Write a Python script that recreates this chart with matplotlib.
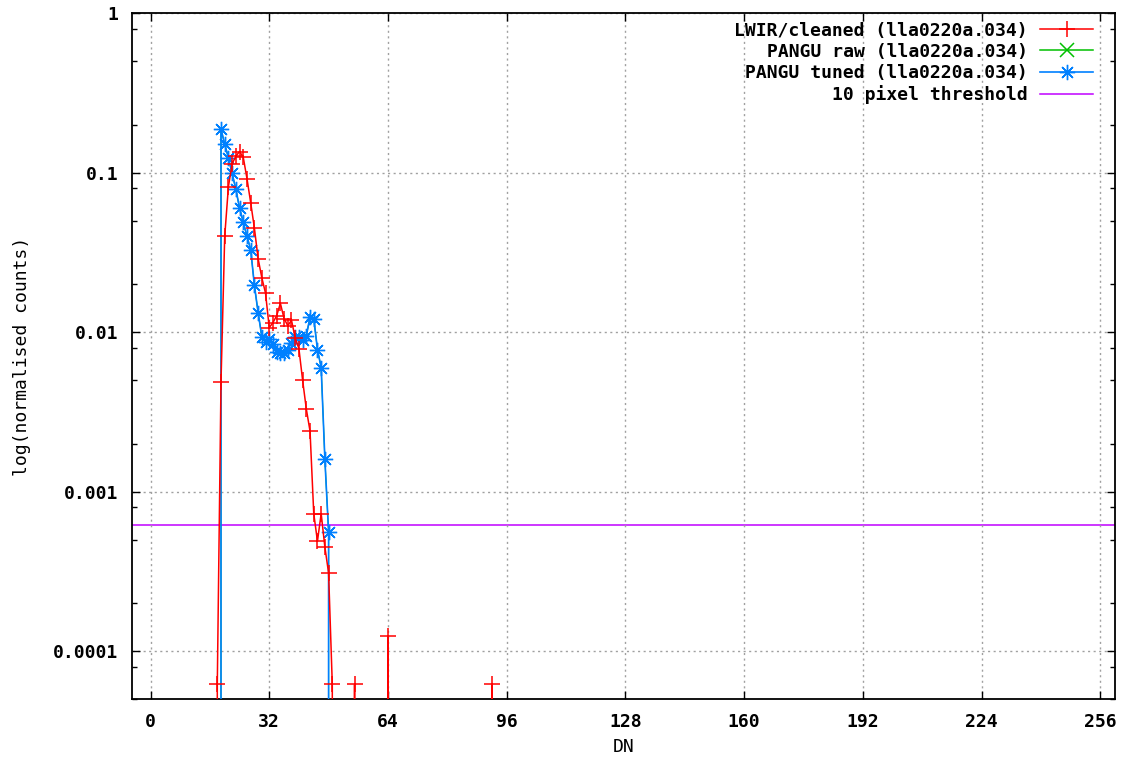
import numpy as np
import matplotlib
matplotlib.use('Agg')
import matplotlib.pyplot as plt
from matplotlib.ticker import LogLocator, FixedLocator, FixedFormatter, NullFormatter

plt.rcParams['font.family'] = 'DejaVu Sans Mono'
plt.rcParams['font.weight'] = 'bold'
plt.rcParams['font.size'] = 13

# LWIR/cleaned histogram (zeros drop off the log axis)
lwir_dn = [17, 18, 19, 20, 21, 22, 23, 24, 25, 26, 27, 28, 29, 30, 31, 32, 33, 34, 35,
           36, 37, 38, 39, 40, 41, 42, 43, 44, 45, 46, 47, 48, 49, 50,
           54, 55, 56, 63, 64, 65, 91, 92, 93]
lwir_val = [0, 6.2e-5, 0.0049, 0.040, 0.082, 0.114, 0.127, 0.136, 0.125, 0.092, 0.065,
            0.045, 0.029, 0.022, 0.0176, 0.0107, 0.0115, 0.0127, 0.0152, 0.0122, 0.0110,
            0.0119, 0.0092, 0.0079, 0.0050, 0.0033, 0.0024, 0.00073, 0.00049, 0.00073,
            0.00045, 0.00031, 6.2e-5, 0,
            0, 6.2e-5, 0, 0, 1.25e-4, 0, 0, 6.2e-5, 0]

# PANGU tuned histogram
tuned_dn = list(range(18, 50))
tuned_val = [0, 0.188, 0.151, 0.124, 0.099, 0.079, 0.060, 0.049, 0.040, 0.033, 0.0197,
             0.0133, 0.0094, 0.0087, 0.0091, 0.0085, 0.0075, 0.0074, 0.0074, 0.0078,
             0.0086, 0.0093, 0.0094, 0.0090, 0.0095, 0.0125, 0.0122, 0.0078, 0.0060,
             0.0016, 0.00056, 0]

# PANGU raw sits under the tuned curve
raw_dn = tuned_dn
raw_val = tuned_val

threshold = 6.2e-4
xticks = [0, 32, 64, 96, 128, 160, 192, 224, 256]
yticks = [1e-4, 1e-3, 1e-2, 1e-1, 1]
ylabels = ['0.0001', '0.001', '0.01', '0.1', '1']

fig = plt.figure(figsize=(11.27, 7.65), dpi=100)
ax = fig.add_axes([0.1171, 0.0859, 0.8723, 0.8967])
ax.set_yscale('log')

ax.plot(raw_dn, raw_val, color='#00c000', lw=0.8, marker='x', ms=7, mew=0.8,
        label='PANGU raw (lla0220a.034)', zorder=2)
ax.plot(tuned_dn, tuned_val, color='#0080ff', lw=1.2, marker=(8, 2, 0), ms=11, mew=1.0,
        label='PANGU tuned (lla0220a.034)', zorder=3)
ax.plot(lwir_dn, lwir_val, color='#ff0000', lw=1.1, marker='+', ms=11, mew=1.1,
        label='LWIR/cleaned (lla0220a.034)', zorder=4)
ax.axhline(threshold, color='#c000ff', lw=1.1, label='10 pixel threshold', zorder=1)

ax.set_xlim(-5, 260)
ax.set_ylim(5e-5, 1)

ax.xaxis.set_major_locator(FixedLocator(xticks))
ax.yaxis.set_major_locator(FixedLocator(yticks))
ax.yaxis.set_major_formatter(FixedFormatter(ylabels))
ax.yaxis.set_minor_locator(LogLocator(base=10, subs=[2, 5, 8]))
ax.yaxis.set_minor_formatter(NullFormatter())

ax.tick_params(which='both', direction='in', top=True, right=True, width=1.0)
ax.tick_params(which='major', length=6, pad=10)
ax.tick_params(which='minor', length=3.5)
for s in ax.spines.values():
    s.set_linewidth(1.3)

ax.grid(True, which='major', color='#a0a0a0', lw=1.0, linestyle=(0, (1.5, 2.5)))

ax.set_xlabel('DN', labelpad=5)
ax.set_ylabel('log(normalised counts)', labelpad=16)

handles, labels = ax.get_legend_handles_labels()
order = [2, 0, 1, 3]
leg = ax.legend([handles[i] for i in order], [labels[i] for i in order],
                loc='upper right', bbox_to_anchor=(0.981, 0.993), frameon=False,
                markerfirst=False, handlelength=2.9, handletextpad=0.7,
                labelspacing=0.17, borderaxespad=0, borderpad=0.2)
# legend sample for the raw series drawn at full size
raw_handle = leg.legend_handles[1]
raw_handle.set_linewidth(1.1)
raw_handle.set_markersize(10)
raw_handle.set_markeredgewidth(1.1)

fig.savefig('out.png', dpi=100)
